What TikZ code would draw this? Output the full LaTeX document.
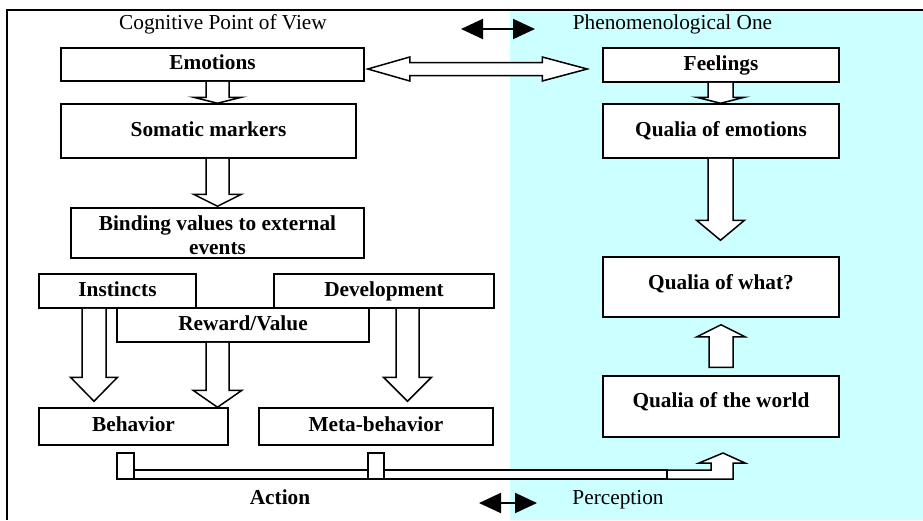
\documentclass[tikz,border=0pt]{standalone}
\usepackage{fontspec}
\setmainfont{Liberation Serif}
\usetikzlibrary{arrows.meta,calc}
\definecolor{phencyan}{RGB}{204,255,255}
\tikzset{
  box/.style={draw=black, fill=white, line width=1.5pt, inner sep=0pt, align=center,
    text height=15pt, text depth=4.7pt,
    font=\fontsize{21.3}{24}\selectfont\bfseries},
  heading/.style={inner sep=0pt, anchor=base, font=\fontsize{21.3}{24}\selectfont},
  blockarrow/.style={draw=black, fill=white, line width=1.5pt, line join=miter},
  blackarrow/.style={line width=2pt, {Triangle[length=22pt,width=20pt]}-{Triangle[length=22pt,width=20pt]}},
}
% down block arrow: x, from anchor, to anchor, shaft half, head half, head length, gap at tip
\newcommand\downblock[7]{%
  \filldraw[blockarrow] let \p1=(#1,0 |- #2), \p2=(#1,0 |- #3) in
    (\x1-#4pt,\y1) -- (\x1-#4pt,\y2+#7pt+#6pt) -- (\x1-#5pt,\y2+#7pt+#6pt) --
    (\x1,\y2+#7pt) -- (\x1+#5pt,\y2+#7pt+#6pt) -- (\x1+#4pt,\y2+#7pt+#6pt) -- (\x1+#4pt,\y1);}
% up block arrow: x, from (lower) anchor, to (upper) anchor, shaft half, head half, head length, gap start, gap tip
\newcommand\upblock[8]{%
  \filldraw[blockarrow] let \p1=(#1,0 |- #2), \p2=(#1,0 |- #3) in
    (\x1-#4pt,\y1+#7pt) -- (\x1-#4pt,\y2-#8pt-#6pt) -- (\x1-#5pt,\y2-#8pt-#6pt) --
    (\x1,\y2-#8pt) -- (\x1+#5pt,\y2-#8pt-#6pt) -- (\x1+#4pt,\y2-#8pt-#6pt) --
    (\x1+#4pt,\y1+#7pt) -- cycle;}
\begin{document}
\begin{tikzpicture}[x=1pt,y=-1pt]
\useasboundingbox (0,0) rectangle (923,520);
\fill[white] (0,0) rectangle (923,520);
% phenomenological background
\fill[phencyan] (510,10) rectangle (923,520);
% frame
\draw[line width=1.5pt] (7,520) -- (7,10) -- (923,10);

% headings
\node[heading] (cog) at (223,29) {Cognitive Point of View};
\node[heading] (phen) at (672.5,29) {Phenomenological One};
\node[heading, font=\fontsize{21.3}{24}\selectfont\bfseries] (act) at (280,504) {Action};
\node[heading] (perc) at (618,504) {Perception};

% black double arrows
\coordinate (tl) at (461,29);
\coordinate (tr) at (535,29);
\coordinate (bl) at (479,503);
\coordinate (br) at (537,503);
\draw[blackarrow] (tl) -- (tr);
\draw[blackarrow] (bl) -- (br);

% boxes
\node[box, minimum width=303, minimum height=33] (emo) at (212.5,64.5) {Emotions};
\node[box, minimum width=295, minimum height=54] (som) at (208.5,131) {Somatic markers};
\node[box, minimum width=236, minimum height=34] (fee) at (721,65) {Feelings};
\node[box, minimum width=236, minimum height=54] (qemo) at (721,131) {Qualia of emotions};
\node[box, minimum width=293, minimum height=50, text height=42pt, text depth=0pt] (bind) at (217.5,233) {Binding values to external\\events};
\node[box, minimum width=236, minimum height=60, text depth=10.7pt] (qwhat) at (721,287) {Qualia of what?};
\node[box, minimum width=236, minimum height=61, text depth=13.7pt] (qworld) at (721,406.5) {Qualia of the world};
\node[box, minimum width=157, minimum height=34] (inst) at (117.5,291) {Instincts};
\node[box, minimum width=220, minimum height=34] (dev) at (384,291) {Development};
\node[box, minimum width=252, minimum height=34] (rew) at (243,325) {Reward/Value};
\node[box, minimum width=189, minimum height=37] (beh) at (133.5,426.5) {Behavior};
\node[box, minimum width=234, minimum height=37] (meta) at (376,426.5) {Meta-behavior};

% hollow double arrow Emotions <-> Feelings
\filldraw[blockarrow] let \p1=(emo.east), \p2=(fee.west), \p3=(0,69) in
  (\x1+3pt,\y3) -- (\x1+45pt,\y3+12pt) -- (\x1+45pt,\y3+6.5pt) -- (\x2-60pt,\y3+6.5pt) --
  (\x2-60pt,\y3+12pt) -- (\x2-15pt,\y3) -- (\x2-60pt,\y3-12pt) -- (\x2-60pt,\y3-6.5pt) --
  (\x1+45pt,\y3-6.5pt) -- (\x1+45pt,\y3-12pt) -- cycle;

% vertical block arrows
\downblock{217.5}{emo.south}{som.north}{11.5}{24}{6}{0}
\downblock{720.5}{fee.south}{qemo.north}{12.5}{24}{6}{0}
\downblock{217.5}{som.south}{bind.north}{11.5}{24}{12}{1}
\downblock{720.5}{qemo.south}{qwhat.north}{12.5}{24}{20}{16}
\upblock{721}{qworld.north}{qwhat.south}{12}{24}{12}{8}{7}
\downblock{94}{inst.south}{beh.north}{12}{23.5}{24}{6}
\downblock{217.5}{rew.south}{beh.north}{11.5}{24.5}{17}{0}
\downblock{407.5}{dev.south}{meta.north}{11.5}{24}{24}{6}

% action / perception bar
\draw[blockarrow] (117,453) rectangle (134,479);
\draw[blockarrow] (368,453) rectangle (384,479);
\draw[blockarrow] (134,470) rectangle (368,479);
\draw[blockarrow] (384,470) rectangle (667,479);
\filldraw[blockarrow] (667,470) -- (711,470) -- (711,463) -- (699,463) -- (723,453) --
  (745,463) -- (733,463) -- (733,479) -- (667,479) -- cycle;
\end{tikzpicture}
\end{document}
